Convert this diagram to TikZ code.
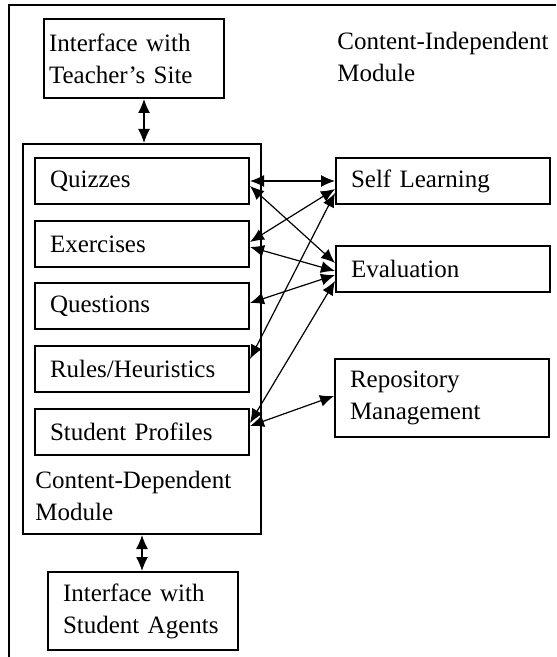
\documentclass[tikz,border=0pt]{standalone}
\usepackage{fontspec}
\setmainfont{Liberation Serif}
\usetikzlibrary{arrows.meta}

\begin{document}
\begin{tikzpicture}[x=0.5pt, y=-0.5pt, font=\fontsize{12.5}{16}\selectfont,
  box/.style={draw, line width=1pt, anchor=north west, align=left,
    inner xsep=7.5pt, inner ysep=0pt},
  part/.style={box, minimum width=107pt, minimum height=23pt, text width=92pt},
  label/.style={anchor=north west, align=left, inner sep=0pt},
  link/.style={{Latex[length=7pt,width=6pt]}-{Latex[length=7pt,width=6pt]}, line width=0.6pt}]
\useasboundingbox (0,0) rectangle (556,657);
\draw[line width=1pt] (9,657) -- (9,5) -- (556,5);
\node[box, inner xsep=2.5pt, minimum width=90pt, minimum height=39.5pt, text width=85pt]
  (teacher) at (43,18) {Interface with\\Teacher's Site};
\node[label] (indep) at (337,32) {Content-Independent\\Module};
\node[box, minimum width=119pt, minimum height=195pt] (cdm) at (22,143) {};
\node[part] (quiz) at (34,157) {Quizzes};
\node[part] (exer) at (34,220) {Exercises};
\node[part] (quest) at (34,282) {Questions};
\node[part] (rules) at (34,345) {Rules/Heuristics};
\node[part] (prof) at (34,408) {Student Profiles};
\node[label] (dep) at (35,471) {Content-Dependent\\Module};
\node[box, minimum width=95pt, minimum height=39pt, text width=80pt]
  (agents) at (47,571) {Interface with\\Student Agents};
\node[part, minimum width=106.5pt] (selfl) at (335,157) {Self Learning};
\node[part, minimum width=106.5pt] (evalu) at (335,245) {Evaluation};
\node[part, minimum height=39pt] (repo) at (334,358) {Repository\\Management};
\draw[link] ([xshift=5pt]teacher.south) -- ([xshift=5pt]teacher.south |- cdm.north);
\draw[link] (cdm.south) -- (cdm.south |- agents.north);
\draw[link] (quiz.east) -- (selfl.west);
\draw[link] ([yshift=-2.5pt]quiz.east) -- ([yshift=3pt]evalu.west);
\draw[link] ([yshift=1pt]exer.east) -- ([yshift=-4pt]selfl.west);
\draw[link] ([yshift=-1.5pt]exer.east) -- ([yshift=-1pt]evalu.west);
\draw[link] ([yshift=1.5pt]quest.east) -- ([yshift=-3pt]evalu.west);
\draw[link] ([yshift=5pt]rules.east) -- ([yshift=-6pt]selfl.west);
\draw[link] ([yshift=4.5pt]prof.east) -- ([yshift=-6pt]evalu.west);
\draw[link] ([yshift=3pt]prof.east) -- ([yshift=1pt]repo.west);
\end{tikzpicture}
\end{document}
